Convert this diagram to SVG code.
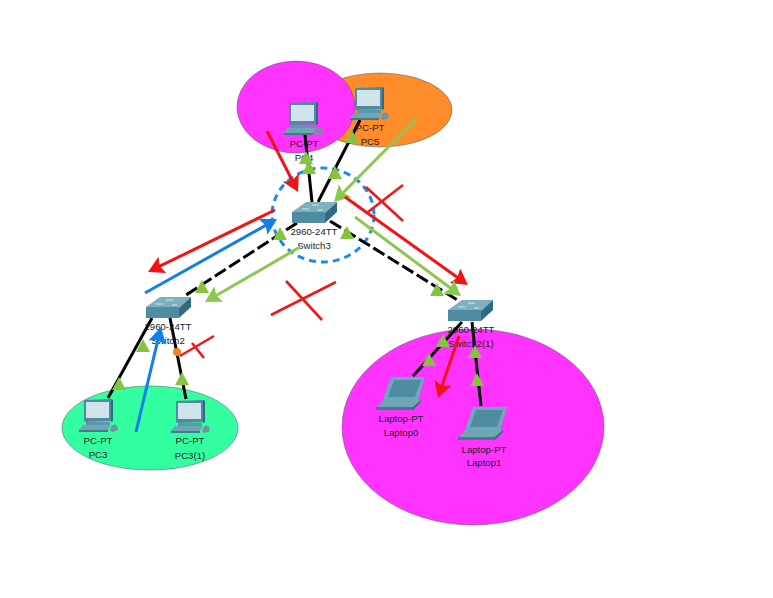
<svg xmlns="http://www.w3.org/2000/svg" xmlns:xlink="http://www.w3.org/1999/xlink" width="773" height="598" viewBox="0 0 773 598">
<style>
text{font-family:"Liberation Sans",Arial,sans-serif;font-size:9.6px;fill:#222;text-anchor:middle}
.link{stroke:#000;stroke-width:3;fill:none}
.dash{stroke-dasharray:13 4}
.tri{fill:#86c440}
.a{stroke-width:3;fill:none}
.x{stroke:#f01818;stroke-width:2.6;fill:none}
.red{stroke:#f01414;marker-end:url(#mr)}
.grn{stroke:#8cc850;marker-end:url(#mg)}
.blu{stroke:#1080e8;marker-end:url(#mb)}
</style>
<defs>
<marker id="mr" markerUnits="userSpaceOnUse" markerWidth="22" markerHeight="22" refX="4" refY="9" orient="auto"><path d="M0 0L16 9L0 18L3 9Z" fill="#f01414"/></marker>
<marker id="mg" markerUnits="userSpaceOnUse" markerWidth="22" markerHeight="22" refX="4" refY="9" orient="auto"><path d="M0 0L16 9L0 18L3 9Z" fill="#8cc850"/></marker>
<marker id="mb" markerUnits="userSpaceOnUse" markerWidth="22" markerHeight="22" refX="4" refY="9" orient="auto"><path d="M0 0L16 9L0 18L3 9Z" fill="#1080e8"/></marker>
<symbol id="pc" width="39" height="33" viewBox="0 0 39 33" overflow="visible">
<path d="M5 1L32 0L34 1V22L7 23L5 22Z" fill="#4f8a9e"/>
<path d="M32 0L34 1V22L32 23Z" fill="#2f6a80"/>
<rect x="7" y="3" width="23" height="16" fill="#cfe3ea"/>
<path d="M7 23H31V26H7Z" fill="#5f97aa"/>
<path d="M4 26H32L29 31H0Z" fill="#6fa6b6"/>
<path d="M0 31H29V33H0Z" fill="#3f7a8e"/>
<path d="M32 28C35 24 37 26 38 27L39 31L34 33L31 32Z" fill="#6f93a0"/>
</symbol>
<symbol id="lap" width="49" height="34" viewBox="0 0 49 34" overflow="visible">
<path d="M15 1H49L42 24H7Z" fill="#6fa8ba"/>
<path d="M18 4H45L39 21H12Z" fill="#4f8ca2"/>
<path d="M7 24H45L37 33H0Z" fill="#6fa6b6"/>
<path d="M0 31L37 31V34H0Z" fill="#3f7a8e"/>
<path d="M45 24V26L37 34V31Z" fill="#2f6a80"/>
</symbol>
<symbol id="sw" width="45" height="21" viewBox="0 0 45 21" overflow="visible">
<path d="M0 10L14 0H45L33 11Z" fill="#7fb0c0"/>
<path d="M0 10H33V21H0Z" fill="#4f8ca2"/>
<path d="M33 11L45 0V10L33 21Z" fill="#2f6b80"/>
<path d="M10 7h7M20 3h7M26 8h5" stroke="#d5e6ec" stroke-width="1"/>
</symbol>
</defs>
<rect width="773" height="598" fill="#fff"/>
<g id="areas">
<ellipse cx="380" cy="110" rx="72" ry="37" fill="#ff8c2a" stroke="#555" stroke-width=".5"/>
<ellipse cx="296" cy="107" rx="59" ry="46" fill="#ff33ff" stroke="#555" stroke-width=".5"/>
<ellipse cx="150" cy="428" rx="88" ry="42" fill="#33ffa0" stroke="#555" stroke-width=".5"/>
<ellipse cx="473" cy="427" rx="131" ry="98" fill="#ff33ff" stroke="#555" stroke-width=".5"/>
<ellipse cx="323" cy="215" rx="51" ry="47" fill="none" stroke="#1a8ce8" stroke-width="3" stroke-dasharray="7 5"/>
</g>
<g id="connectors">
<path class="link" d="M305 135L312 202"/>
<path class="link" d="M360 120L318 202"/>
<path class="link dash" d="M297 223L183 297"/>
<path class="link dash" d="M330 221L459 301"/>
<path class="link" d="M108 398L152 318"/>
<path class="link" d="M186 399L170 318"/>
<path class="link" d="M413 376L462 322"/>
<path class="link" d="M481 406L472 322"/>
</g>
<g id="nodes">
<g id="pc4"><use href="#pc" x="284" y="102"/><text x="304" y="147">PC-PT</text><text x="304" y="161">PC4</text></g>
<g id="pc5"><use href="#pc" x="350" y="87"/><text x="370" y="131">PC-PT</text><text x="370" y="145">PC5</text></g>
<g id="switch3"><use href="#sw" x="292" y="202"/><text x="314" y="235">2960-24TT</text><text x="314" y="249">Switch3</text></g>
<g id="switch2"><use href="#sw" x="146" y="297"/><text x="168" y="330">2960-24TT</text><text x="168" y="344">Switch2</text></g>
<g id="switch2-1"><use href="#sw" x="448" y="300"/><text x="471" y="333">2960-24TT</text><text x="471" y="347">Switch2(1)</text></g>
<g id="pc3"><use href="#pc" x="79" y="399"/><text x="98" y="444">PC-PT</text><text x="98" y="458">PC3</text></g>
<g id="pc3-1"><use href="#pc" x="171" y="400"/><text x="190" y="444">PC-PT</text><text x="190" y="459">PC3(1)</text></g>
<g id="laptop0"><use href="#lap" x="376" y="376"/><text x="401" y="422">Laptop-PT</text><text x="401" y="436">Laptop0</text></g>
<g id="laptop1"><use href="#lap" x="458" y="406"/><text x="484" y="453">Laptop-PT</text><text x="484" y="466">Laptop1</text></g>
</g>
<g id="link-status">
<path class="tri" d="M306 151l7 13h-14z M309 161l7 13h-14z M352 130l7 13h-14z M335 166l7 13h-14z M280 227l7 13h-14z M347 226l7 13h-14z M202 280l7 13h-14z M437 283l7 13h-14z M143 339l7 13h-14z M119 377l7 13h-14z M182 372l7 13h-14z M443 334l7 13h-14z M429 353l7 13h-14z M475 345l7 13h-14z M477 373l7 13h-14z"/>
<circle cx="177" cy="352" r="4" fill="#f58220"/>
</g>
<g id="annotations">
<path class="a red" d="M267 131L292.6 181.3"/>
<path class="a grn" d="M416 119L342.4 193.5"/>
<path class="a red" d="M345 197L458.2 278"/>
<path class="a grn" d="M355 217L451.4 288.8"/>
<path class="a red" d="M275 210L158.8 266.7"/>
<path class="a blu" d="M145 293L266.5 224.9"/>
<path class="a grn" d="M300 247L215.4 296"/>
<path class="a blu" d="M136 432L158.2 338.7"/>
<path class="a red" d="M459 336L441.8 386.6"/>
<path class="x" d="M366 187L403 221M403 185L368 212"/>
<path class="x" d="M271 315L336 282M286 281L322 320"/>
<path class="x" d="M180 356L214 336M192 343L204 358"/>
</g>
</svg>
